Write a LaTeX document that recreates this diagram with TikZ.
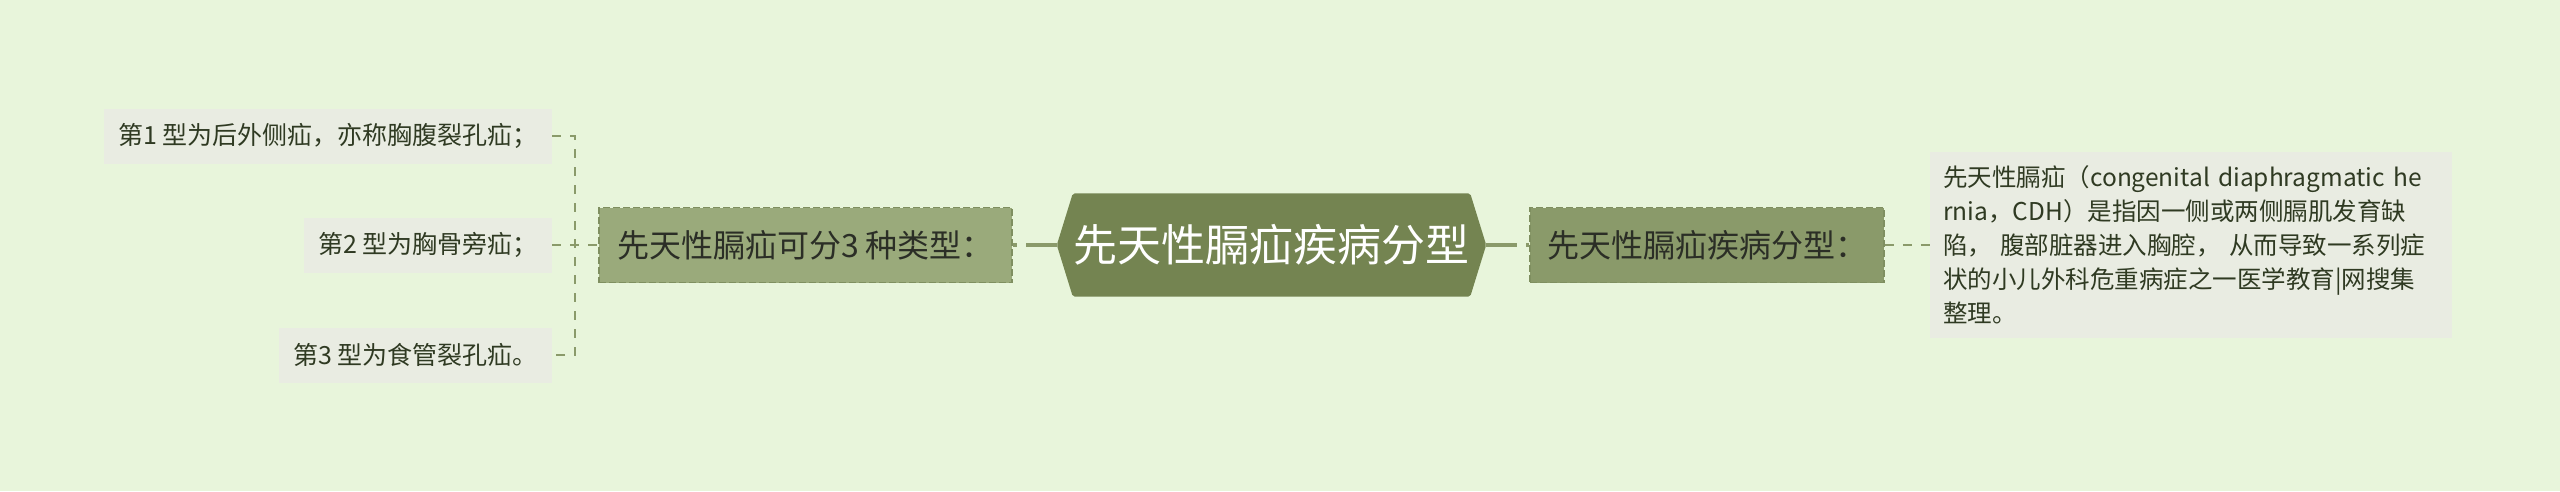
\documentclass[tikz,border=0pt]{standalone}
\usepackage{fontspec}
\setmainfont{Noto Sans CJK SC}
\usetikzlibrary{backgrounds,calc}
\definecolor{bgc}{HTML}{E8F5DB}
\definecolor{leaffill}{HTML}{E9ECE2}
\definecolor{leaftext}{HTML}{2F3A22}
\definecolor{midtext}{HTML}{2B2E26}
\definecolor{midlight}{HTML}{9AAA7B}
\definecolor{middark}{HTML}{8A9A6A}
\definecolor{midborder}{HTML}{7F8F60}
\definecolor{centerfill}{HTML}{748451}
\definecolor{conn}{HTML}{8A9A6A}
\begin{document}
\begin{tikzpicture}[x=1pt,y=-1pt,
  leaf/.style={fill=leaffill, text=leaftext, font=\fontsize{25}{30}\selectfont, inner xsep=14pt, inner ysep=0pt, minimum height=55pt, anchor=east},
  midnode/.style={draw=midborder, dash pattern=on 7pt off 3pt, line width=1.5pt, text=midtext, font=\fontsize{32}{36}\selectfont, minimum height=75pt, inner sep=0pt},
  mainline/.style={draw=conn, line width=4pt, dash pattern=on 31pt off 9pt},
  leafline/.style={draw=conn, line width=2pt, dash pattern=on 9pt off 9pt}]
\begin{scope}[on background layer]
\fill[bgc] (0,0) rectangle (2560,491);
\end{scope}
\useasboundingbox (0,0) rectangle (2560,491);
% center
\node[text=white, font=\fontsize{44}{50}\selectfont, minimum width=429pt, minimum height=103pt, inner sep=0pt] (ctr) at (1271.5,245) {先天性膈疝疾病分型};
\begin{scope}[on background layer]
\fill[centerfill, rounded corners=2pt] (ctr.west) -- ($(ctr.north west)+(16,0)$) -- ($(ctr.north east)+(-16,0)$) -- (ctr.east) -- ($(ctr.south east)+(-16,0)$) -- ($(ctr.south west)+(16,0)$) -- cycle;
\end{scope}
% mid nodes
\node[midnode, fill=midlight, minimum width=413pt] (m1) at (805.5,245) {先天性膈疝可分3 种类型：};
\node[midnode, fill=middark, minimum width=354pt] (m2) at (1707,245) {先天性膈疝疾病分型：};
% leaves left
\node[leaf] (l1) at (552,136) {第1 型为后外侧疝，亦称胸腹裂孔疝；};
\node[leaf] (l2) at (552,245) {第2 型为胸骨旁疝；};
\node[leaf] (l3) at (552,355) {第3 型为食管裂孔疝。};
% right leaf
\node[fill=leaffill, text=leaftext, font=\fontsize{24.5}{34}\selectfont, anchor=west, text width=496pt, inner xsep=13pt, inner ysep=0pt, minimum height=186pt, align=left] (rl) at (1930,245) {先天性膈疝（congenital diaphragmatic he\\rnia，CDH）是指因一侧或两侧膈肌发育缺\\陷， 腹部脏器进入胸腔， 从而导致一系列症\\状的小儿外科危重病症之一医学教育|网搜集\\整理。};
% connectors
\coordinate (bk) at (575,245);
\draw[mainline] (ctr.west) -- (m1.east);
\draw[mainline] (ctr.east) -- (m2.west);
\draw[leafline] (l1.east) -| (bk) |- (l3.east);
\draw[leafline] (l2.east) -- (m1.west);
\draw[leafline] (m2.east) -- (rl.west);
\end{tikzpicture}
\end{document}
